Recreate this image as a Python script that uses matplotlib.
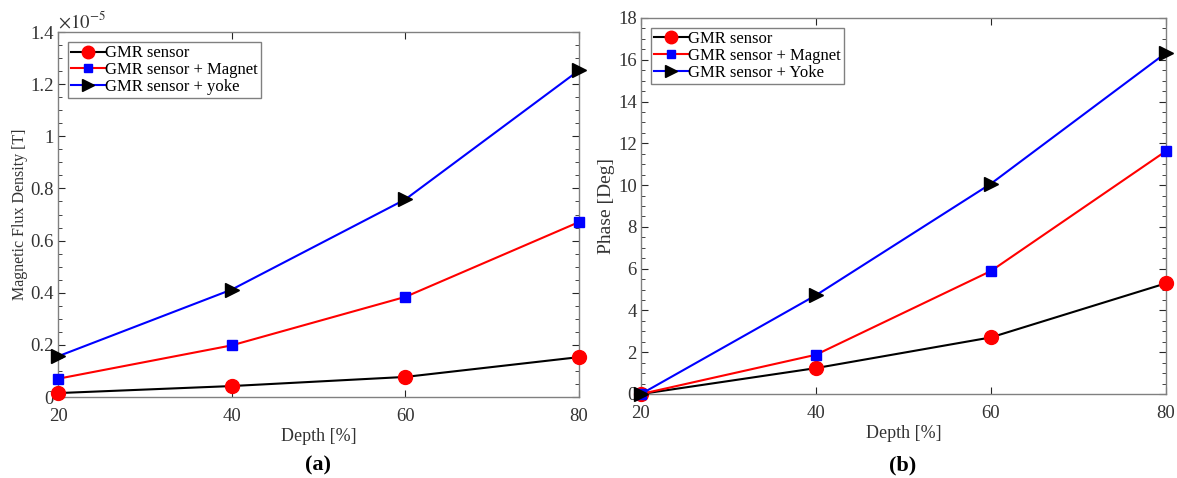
import matplotlib
matplotlib.use('Agg')
import matplotlib.pyplot as plt
from matplotlib.ticker import AutoMinorLocator, MultipleLocator, FuncFormatter

plt.rcParams['font.family'] = ['Liberation Serif', 'DejaVu Serif']
plt.rcParams['mathtext.fontset'] = 'stix'

depth = [20, 40, 60, 80]

# flux density, units of 1e-5 T
flux_gmr = [0.015, 0.042, 0.077, 0.153]
flux_magnet = [0.070, 0.198, 0.384, 0.671]
flux_yoke = [0.156, 0.412, 0.758, 1.253]

# phase, degrees
phase_gmr = [0.0, 1.24, 2.71, 5.30]
phase_magnet = [0.0, 1.88, 5.89, 11.63]
phase_yoke = [0.0, 4.73, 10.07, 16.33]

labels_a = ['GMR sensor', 'GMR sensor + Magnet', 'GMR sensor + yoke']
labels_b = ['GMR sensor', 'GMR sensor + Magnet', 'GMR sensor + Yoke']

W, H = 1177, 478
fig = plt.figure(figsize=(W / 100, H / 100), dpi=100)

def px_axes(x0, y0, x1, y1):
    return fig.add_axes([x0 / W, 1 - y1 / H, (x1 - x0) / W, (y1 - y0) / H])

ax_a = px_axes(58, 32, 579, 397)
ax_b = px_axes(641, 18, 1166, 394)

edge = '#262626'
txt = '#333333'

def draw(ax, ys, labels):
    styles = [
        dict(color='black', marker='o', mfc='red', mec='red', ms=10),
        dict(color='red', marker='s', mfc='blue', mec='blue', ms=6.5),
        dict(color='blue', marker='>', mfc='black', mec='black', ms=10),
    ]
    for y, lab, st in zip(ys, labels, styles):
        ax.plot(depth, y, lw=1.5, label=lab, clip_on=False, zorder=3, **st)
    ax.set_xlim(20, 80)
    ax.set_xticks(depth)
    ax.yaxis.set_minor_locator(AutoMinorLocator(4))
    ax.yaxis.set_major_formatter(FuncFormatter(lambda v, p: '%g' % round(v, 2)))
    ax.tick_params(which='both', direction='in', top=True, right=True,
                   colors=edge, labelcolor=txt, labelsize=13.5)
    ax.tick_params(which='major', length=5)
    ax.tick_params(which='minor', length=3)
    ax.tick_params(axis='x', pad=8)
    ax.tick_params(axis='y', pad=3)
    for s in ax.spines.values():
        s.set_color('#808080')
        s.set_linewidth(1)
    ax.set_xlabel('Depth [%]', fontsize=13, color=txt, labelpad=2)
    leg = ax.legend(loc='upper left', fontsize=12, fancybox=False,
                    framealpha=1, edgecolor='#808080', borderpad=0.2,
                    labelspacing=0.05, handlelength=2.0, handletextpad=0.0,
                    borderaxespad=0.6, markerscale=0.9)
    leg.get_frame().set_linewidth(1)

draw(ax_a, [flux_gmr, flux_magnet, flux_yoke], labels_a)
ax_a.set_ylim(0, 1.4)
ax_a.yaxis.set_major_locator(MultipleLocator(0.2))
ax_a.set_ylabel('Magnetic Flux Density [T]', fontsize=11.5, color=txt, labelpad=2)
ax_a.text(0.0, 1.0, r'$\times 10^{-5}$', transform=ax_a.transAxes,
          fontsize=13.5, color=txt, ha='left', va='bottom')

draw(ax_b, [phase_gmr, phase_magnet, phase_yoke], labels_b)
ax_b.set_ylim(0, 18)
ax_b.yaxis.set_major_locator(MultipleLocator(2))
ax_b.set_ylabel('Phase [Deg]', fontsize=14, color=txt, labelpad=2)

fig.text(318 / W, 1 - 465 / H, '(a)', fontsize=16, fontweight='bold',
         ha='center', va='center')
fig.text(903 / W, 1 - 465 / H, '(b)', fontsize=16, fontweight='bold',
         ha='center', va='center')

fig.savefig('out.png', dpi=100)
